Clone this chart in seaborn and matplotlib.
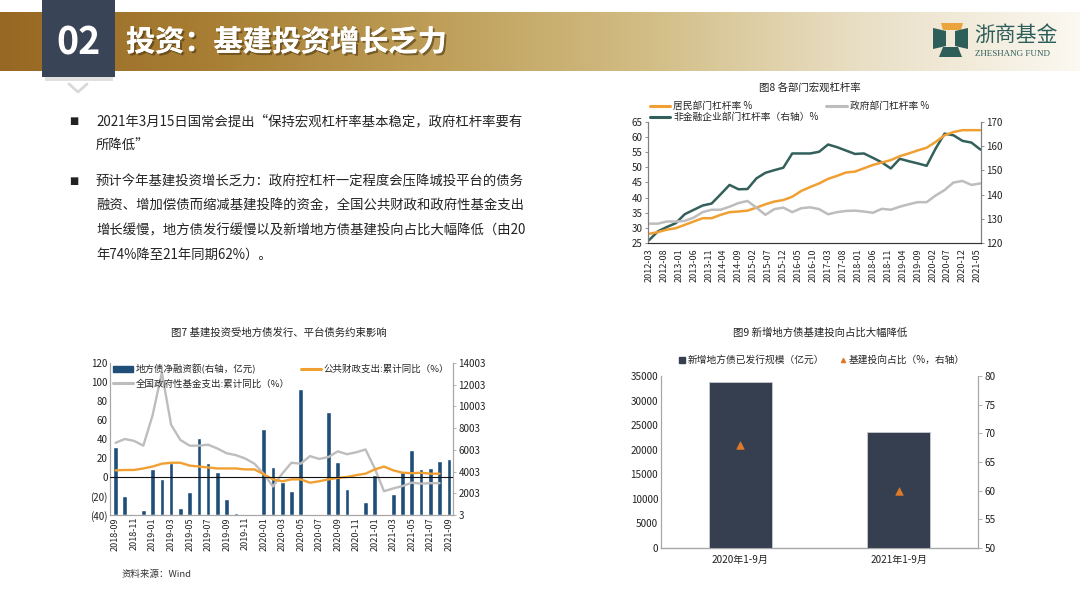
import numpy as np
import pandas as pd
import matplotlib

matplotlib.use("Agg")
import matplotlib.pyplot as plt
import matplotlib.patheffects as pe
from matplotlib.colors import LinearSegmentedColormap
from matplotlib.lines import Line2D
from matplotlib.patches import Polygon, Rectangle, Patch
import seaborn as sns

W, H = 1080, 608

# ---- slide text
SLIDE_NO = "02"
SLIDE_TITLE = "投资：基建投资增长乏力"
BULLET_1 = ["2021年3月15日国常会提出“保持宏观杠杆率基本稳定，政府杠杆率要有", "所降低”"]
BULLET_2 = [
    "预计今年基建投资增长乏力：政府控杠杆一定程度会压降城投平台的债务",
    "融资、增加偿债而缩减基建投降的资金，全国公共财政和政府性基金支出",
    "增长缓慢，地方债发行缓慢以及新增地方债基建投向占比大幅降低（由20",
    "年74%降至21年同期62%）。",
]

# ---- 图8 各部门宏观杠杆率 (quarterly)
lev_quarters = pd.date_range("2012-03-01", "2021-06-01", freq="3MS")
lev_household = [28.0, 28.6, 29.4, 29.9, 31.0, 32.1, 33.2, 33.2, 34.3, 35.2,
                 35.4, 35.7, 36.7, 37.8, 38.7, 39.2, 40.3, 42.2, 43.5, 44.7,
                 46.2, 47.2, 48.3, 48.6, 49.7, 50.8, 51.6, 52.4, 53.7, 54.6,
                 55.6, 56.5, 58.4, 60.6, 61.7, 62.3, 62.3, 62.3]
lev_gov = [31.4, 31.4, 32.1, 32.1, 32.3, 33.4, 35.2, 36.0, 36.0, 37.0,
           38.2, 38.9, 36.7, 34.3, 36.2, 36.7, 35.2, 36.5, 36.8, 36.2,
           34.5, 35.2, 35.6, 35.7, 35.4, 35.0, 36.3, 36.0, 37.0, 37.8,
           38.5, 38.5, 40.7, 42.5, 45.0, 45.5, 44.2, 44.7]
lev_corp = [121.1, 124.8, 126.6, 128.2, 131.9, 133.7, 135.5, 136.3, 140.1, 144.0,
            142.2, 142.3, 146.7, 149.0, 150.1, 151.1, 157.0, 157.0, 157.0, 157.7,
            160.7, 159.6, 158.2, 156.8, 157.0, 155.2, 153.3, 150.8, 154.8, 153.8,
            152.9, 151.9, 159.0, 165.2, 164.5, 162.2, 161.5, 158.6]
lev_ticklabels = pd.date_range("2012-03-01", periods=23, freq="5MS").strftime("%Y-%m")

# ---- 图7 基建投资受地方债发行、平台债务约束影响 (monthly)
fin_months = pd.date_range("2018-09-01", "2021-09-01", freq="MS")
bond_net = [6300, 1750, 60, 440, 4200, 3330, 4820, 610, 2100, 7090,
            4820, 3940, 1490, 180, 60, 60, 7880, 4380, 3060, 2190,
            11640, 60, 80, 9450, 4900, 2370, 50, 1230, 3680, 50,
            1930, 4030, 5950, 4200, 4290, 4990, 5170]
public_exp = [7, 7.4, 7.4, 9, 11, 14, 15, 15, 12, 11,
              10, 9, 9, 9, 8, 8, 3, -2.5, -4.5, -2.5,
              -2.5, -6, -4.5, -2.5, -1, 0, 2, 3.5, 8, 11,
              7, 4.5, 4, 4.5, 3.5, 3.5]
gov_fund = [36, 40, 38, 33, 65, 110, 55, 39, 33, 33,
            34, 30, 25, 23, 19.5, 14, 3.5, -10, 3.5, 15,
            14, 22, 19, 21, 27, 24, 26, 29, 9, -15,
            -12, -9.5, -6, -7, -6.5, -6.5]
fin_left_ticks = [-40, -20, 0, 20, 40, 60, 80, 100, 120]
fin_left_labels = ["(40)", "(20)", "0", "20", "40", "60", "80", "100", "120"]
fin_right_ticks = [3, 2003, 4003, 6003, 8003, 10003, 12003, 14003]

# ---- 图9 新增地方债基建投向占比大幅降低
issue_periods = ["2020年1-9月", "2021年1-9月"]
issue_amount = [33700, 23650]
infra_share = [68.0, 60.0]

ORANGE = "#F0A032"
GRAY = "#BDBDBD"
TEAL = "#33605A"
NAVY_BAR = "#1F4E79"
SLATE = "#353F50"
TXT = "#222222"

sns.set_theme(style="white")
plt.rcParams["font.family"] = ["Noto Sans CJK SC", "DejaVu Sans"]
plt.rcParams["axes.unicode_minus"] = False

fig = plt.figure(figsize=(W / 100, H / 100), dpi=100)
fig.patch.set_facecolor("white")


def px_axes(x0, y0, x1, y1, **kw):
    return fig.add_axes([x0 / W, 1 - y1 / H, (x1 - x0) / W, (y1 - y0) / H], **kw)


def style_spines(ax, color="#7F7F7F"):
    for s in ax.spines.values():
        s.set_color(color)
        s.set_linewidth(0.8)


# ---------------- background / header
bg = px_axes(0, 0, W, H)
bg.set_xlim(0, W)
bg.set_ylim(H, 0)
bg.axis("off")
bg.set_zorder(-10)

band_cmap = LinearSegmentedColormap.from_list(
    "band", ["#976823", "#A87F35", "#BE9E58", "#D2BD85", "#E9DFC5", "#FBF8F1"])
bg.imshow(np.linspace(0, 1, 256)[None, :], extent=(0, W, 71, 12), cmap=band_cmap,
          aspect="auto", zorder=1)
bg.add_patch(Rectangle((45, 76), 68, 5, color="#000000", alpha=0.12, lw=0, zorder=2))
bg.add_patch(Rectangle((42, 0), 73, 77, color="#3A4457", lw=0, zorder=3))
bg.add_line(Line2D([69, 78, 87], [84, 92, 84], color="#D9D9D9", lw=2, zorder=3))
bg.text(78, 43, SLIDE_NO, color="white", fontsize=27, fontweight="bold",
        ha="center", va="center", zorder=4)
bg.text(126, 42, SLIDE_TITLE, color="white", fontsize=21, fontweight="bold",
        va="center", zorder=4,
        path_effects=[pe.withSimplePatchShadow(offset=(1.5, -1.5), shadow_rgbFace="#4A3510", alpha=0.6),
                      pe.Normal()])

# logo
bg.add_patch(Polygon([(941, 23), (963, 23), (961, 30), (943, 30)], color="#EBA33C", lw=0, zorder=3))
bg.add_patch(Polygon([(933, 28), (946, 31), (946, 46), (933, 49)], color="#2E5E5A", lw=0, zorder=3))
bg.add_patch(Polygon([(968, 28), (955, 31), (955, 46), (968, 49)], color="#2E5E5A", lw=0, zorder=3))
bg.add_patch(Polygon([(943, 47), (958, 47), (962, 57), (939, 57)], color="#2E5E5A", lw=0, zorder=3))
bg.text(974, 35, "浙商基金", color="#2E5E5A", fontsize=15, va="center", zorder=4)
bg.text(975, 54, "ZHESHANG FUND", color="#2E5E5A", fontsize=6.5, va="center",
        family="Liberation Serif", zorder=4)

# bullets
for lines, y0 in [(BULLET_1, 121), (BULLET_2, 181)]:
    bg.text(74, y0, "■", fontsize=7, color=TXT, ha="center", va="center", family="DejaVu Sans")
    for k, line in enumerate(lines):
        bg.text(96, y0 + k * 24.5, line, fontsize=9.6, color=TXT, va="center")

# ---------------- 图8
bg.text(810, 88, "图8 各部门宏观杠杆率", fontsize=7.5, color=TXT, ha="center", va="center")
m8 = (lev_quarters.year - 2012) * 12 + lev_quarters.month - 3
df8 = pd.DataFrame({"m": m8, "household": lev_household, "gov": lev_gov, "corp": lev_corp})

ax8 = px_axes(648, 122, 981, 243)
ax8b = ax8.twinx()
sns.lineplot(data=df8, x="m", y="household", ax=ax8, color=ORANGE, lw=1.8, legend=False)
sns.lineplot(data=df8, x="m", y="gov", ax=ax8, color=GRAY, lw=1.8, legend=False)
sns.lineplot(data=df8, x="m", y="corp", ax=ax8b, color=TEAL, lw=1.8, legend=False)
ax8.set_zorder(ax8b.get_zorder() + 1)
ax8.patch.set_visible(False)
ax8.set_xlim(-0.3, 111.2)
ax8.set_ylim(25, 65)
ax8b.set_ylim(120, 170)
ax8.set_yticks(range(25, 66, 5))
ax8b.set_yticks(range(120, 171, 10))
ax8.set_xticks(range(0, 111, 5))
ax8.set_xticklabels(lev_ticklabels, rotation=90)
for a in (ax8, ax8b):
    a.set_xlabel("")
    a.set_ylabel("")
    style_spines(a)
    a.spines["top"].set_visible(False)
    a.tick_params(labelsize=7, length=2.5, width=0.6, color="#7F7F7F", pad=1.5, labelcolor=TXT)
ax8.tick_params(axis="x", labelsize=6.5)
ax8.spines["bottom"].set_color("#333333")

h8 = [Line2D([], [], color=ORANGE, lw=2.2), Line2D([], [], color=TEAL, lw=2.2),
      Line2D([], [], color=GRAY, lw=2.2)]
l8 = ["居民部门杠杆率 %", "非金融企业部门杠杆率（右轴）%", "政府部门杠杆率 %"]
fig.legend(h8, l8, loc="upper left", bbox_to_anchor=(650 / W, 1 - 101 / H), ncol=2,
           frameon=False, fontsize=7, handlelength=2.1, handletextpad=0.3,
           columnspacing=0.8, labelspacing=0.15, borderpad=0, borderaxespad=0)

# ---------------- 图7
bg.text(279, 333, "图7 基建投资受地方债发行、平台债务约束影响", fontsize=7.5, color=TXT,
        ha="center", va="center")
df7 = pd.DataFrame({"i": np.arange(len(fin_months)), "bond": bond_net})
df7_lines = pd.DataFrame({"i": np.arange(len(public_exp)), "public": public_exp, "fund": gov_fund})

ax7 = px_axes(110, 363, 453, 515)
ax7b = ax7.twinx()
sns.barplot(data=df7, x="i", y="bond", ax=ax7b, color=NAVY_BAR, width=0.5,
            native_scale=True, saturation=1)
sns.lineplot(data=df7_lines, x="i", y="fund", ax=ax7, color=GRAY, lw=1.7, legend=False)
sns.lineplot(data=df7_lines, x="i", y="public", ax=ax7, color=ORANGE, lw=1.7, legend=False)
ax7.axhline(0, color="#111111", lw=0.8, zorder=5)
ax7.set_zorder(ax7b.get_zorder() + 1)
ax7.patch.set_visible(False)
ax7.set_xlim(-0.6, 36.45)
ax7.set_ylim(-40, 120)
ax7b.set_ylim(3, 14003)
ax7.set_yticks(fin_left_ticks)
ax7.set_yticklabels(fin_left_labels)
ax7b.set_yticks(fin_right_ticks)
ax7.set_xticks(np.arange(0, len(fin_months), 2))
ax7.set_xticklabels(fin_months[::2].strftime("%Y-%m"), rotation=90)
for a in (ax7, ax7b):
    a.set_xlabel("")
    a.set_ylabel("")
    style_spines(a, "#A6A6A6")
    a.spines["top"].set_visible(False)
    a.tick_params(labelsize=7, length=2.5, width=0.6, color="#A6A6A6", pad=1.5, labelcolor=TXT)
ax7.tick_params(axis="y", length=0)
ax7.tick_params(axis="x", labelsize=6.5, length=0)

h7 = [Patch(color=NAVY_BAR), Line2D([], [], color=GRAY, lw=2.2), Line2D([], [], color=ORANGE, lw=2.2)]
l7 = ["地方债净融资额(右轴，亿元)", "全国政府性基金支出:累计同比（%）", "公共财政支出:累计同比（%）"]
fig.legend(h7, l7, loc="upper left", bbox_to_anchor=(113 / W, 1 - 364 / H), ncol=2,
           frameon=False, fontsize=6.8, handlelength=2.1, handleheight=0.5, handletextpad=0.3,
           columnspacing=1.2, labelspacing=0.5, borderpad=0, borderaxespad=0)
bg.text(122, 574, "资料来源：Wind", fontsize=6.8, color="#333333", style="italic", va="center")

# ---------------- 图9
bg.text(820, 333, "图9 新增地方债基建投向占比大幅降低", fontsize=7.5, color=TXT,
        ha="center", va="center")
df9 = pd.DataFrame({"period": issue_periods, "amount": issue_amount, "share": infra_share})
ax9 = px_axes(661, 376, 978, 548)
ax9b = ax9.twinx()
sns.barplot(data=df9, x="period", y="amount", ax=ax9, color=SLATE, width=0.4,
            saturation=1, edgecolor="#C8CCD2", linewidth=0.6)
sns.scatterplot(data=df9, x="period", y="share", ax=ax9b, marker="^", s=30,
                color="#E07A2A", edgecolor="#E07A2A", legend=False)
ax9.set_xlim(-0.5, 1.5)
ax9.set_ylim(0, 35000)
ax9b.set_ylim(50, 80)
ax9.set_yticks(range(0, 35001, 5000))
ax9b.set_yticks(range(50, 81, 5))
for a in (ax9, ax9b):
    a.set_xlabel("")
    a.set_ylabel("")
    style_spines(a, "#A6A6A6")
    a.spines["top"].set_visible(False)
    a.tick_params(labelsize=7.2, length=3, width=0.6, color="#A6A6A6", pad=2, labelcolor=TXT)
ax9.spines["bottom"].set_color("#333333")
ax9.tick_params(axis="y", length=0)
ax9.set_xticks([0, 1])
ax9.set_xticklabels(issue_periods)
ax9.tick_params(axis="x", length=0, pad=5)
ax9.set_xticks([0.5], minor=True)
ax9.tick_params(axis="x", which="minor", length=3, color="#333333", width=0.6)

h9 = [Line2D([], [], ls="", marker="s", ms=5, color=SLATE),
      Line2D([], [], ls="", marker="^", ms=3, color="#E07A2A")]
l9 = ["新增地方债已发行规模（亿元）", "基建投向占比（%，右轴）"]
fig.legend(h9, l9, loc="upper left", bbox_to_anchor=(678 / W, 1 - 355 / H), ncol=2,
           frameon=False, fontsize=7, handlelength=0.8, handletextpad=0.2,
           columnspacing=1.5, borderpad=0, borderaxespad=0)

fig.savefig("out.png", dpi=100, facecolor="white")
